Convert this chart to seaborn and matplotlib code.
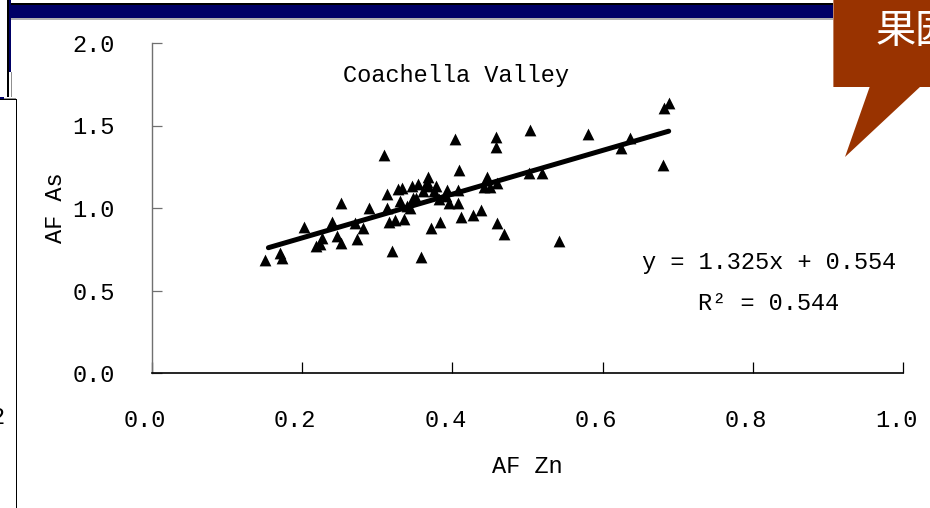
import matplotlib
matplotlib.use("Agg")
import matplotlib.pyplot as plt
from matplotlib.patches import Rectangle, Polygon
from matplotlib.transforms import ScaledTranslation
import seaborn as sns
import pandas as pd

# Aggregation factors, Coachella Valley soils
af_zn = [0.151, 0.170, 0.173, 0.202, 0.219, 0.224, 0.227, 0.240, 0.246, 0.251,
         0.251, 0.270, 0.273, 0.281, 0.289, 0.309, 0.313, 0.313, 0.316, 0.323,
         0.320, 0.327, 0.330, 0.333, 0.336, 0.339, 0.343, 0.346, 0.348, 0.352,
         0.354, 0.358, 0.361, 0.366, 0.368, 0.368, 0.371, 0.375, 0.378, 0.382,
         0.384, 0.392, 0.393, 0.396, 0.403, 0.407, 0.408, 0.409, 0.412, 0.427,
         0.438, 0.442, 0.446, 0.450, 0.458, 0.458, 0.460, 0.460, 0.469, 0.502,
         0.503, 0.519, 0.542, 0.580, 0.625, 0.636, 0.680, 0.682, 0.688]
af_as = [0.685, 0.729, 0.699, 0.887, 0.770, 0.780, 0.816, 0.917, 0.830, 1.028,
         0.786, 0.907, 0.812, 0.877, 1.002, 1.321, 1.085, 0.998, 0.917, 0.927,
         0.741, 1.113, 1.045, 1.119, 0.931, 1.012, 1.000, 1.131, 1.058, 1.058,
         1.145, 0.705, 1.100, 1.160, 1.190, 1.131, 0.877, 1.100, 1.131, 1.052,
         0.917, 1.070, 1.109, 1.028, 1.418, 1.109, 1.032, 1.230, 0.947, 0.958,
         0.988, 1.125, 1.190, 1.125, 1.432, 1.372, 1.149, 0.911, 0.841, 1.210,
         1.473, 1.210, 0.800, 1.448, 1.362, 1.422, 1.261, 1.604, 1.634]

slope, intercept, r_squared = 1.325, 0.554, 0.544

x_ticks = [0.0, 0.2, 0.4, 0.6, 0.8, 1.0]
y_ticks = [0.0, 0.5, 1.0, 1.5, 2.0]

W, H = 930, 508
FONT = ["Liberation Mono", "DejaVu Sans Mono"]

sns.set_style("white")
plt.rcParams["font.family"] = FONT
plt.rcParams["text.color"] = "black"
plt.rcParams["axes.labelcolor"] = "black"
plt.rcParams["xtick.color"] = "black"
plt.rcParams["ytick.color"] = "black"

fig = plt.figure(figsize=(W / 100, H / 100), dpi=100)
fig.patch.set_facecolor("white")


def fx(px):
    return px / W


def fy(py):
    return 1 - py / H


def rect(x0, y0, x1, y1, **kw):
    fig.patches.append(Rectangle((fx(x0), fy(y1)), fx(x1) - fx(x0), fy(y0) - fy(y1),
                                 transform=fig.transFigure, figure=fig, **kw))


# Slide frame: title bar and side strips
navy = "#000066"
rect(8, 3, W, 5, color="black", lw=0)
rect(11, 5, W, 18, color=navy, lw=0)
rect(11, 18, W, 19.5, color="#b0b0b0", lw=0)
rect(7, 0, 8.5, 97, color="black", lw=0)
rect(8.5, 0, 11, 72, color=navy, lw=0)
rect(10.5, 72, 11.5, 97, color="#909090", lw=0)
rect(0, 97, 4, 99, color=navy, lw=0)
rect(4, 97.5, 16, 99, color="#909090", lw=0)
rect(15.5, 99, 17, H, color="black", lw=0)
rect(0, 99, 16, 100.3, color="black", lw=0)
fig.text(fx(4), fy(418), "2", ha="right", va="center", fontsize=17, color="black")

# Callout in the top-right corner
brown = "#993300"
rect(833, 0, W, 87, color=brown, lw=0)
rect(833, 0, 834, 87, color="#c08060", lw=0)
fig.patches.append(Polygon([(fx(870), fy(86)), (fx(845), fy(157)), (fx(921), fy(86))],
                           closed=True, transform=fig.transFigure, figure=fig,
                           color=brown, lw=0))
fig.text(fx(876), fy(31), "果园", ha="left", va="center", fontsize=29, color="white",
         family=["Noto Sans CJK SC", "DejaVu Sans"])

# Scatter plot axes
ax = fig.add_axes([fx(152), fy(373), fx(903) - fx(152), fy(43) - fy(373)])
ax.set_facecolor("white")

df = pd.DataFrame({"AF Zn": af_zn, "AF As": af_as})
sns.scatterplot(data=df, x="AF Zn", y="AF As", marker="^", color="black",
                s=72, linewidth=0, ax=ax, zorder=3)

x_line = [min(af_zn) + 0.004, max(af_zn)]
trend = pd.DataFrame({"x": x_line, "y": [slope * v + intercept for v in x_line]})
sns.lineplot(data=trend, x="x", y="y", color="black", lw=3.6, ax=ax,
             solid_capstyle="round", zorder=4)

ax.set_xlim(0, 1)
ax.set_ylim(0, 2)
ax.set_xticks(x_ticks)
ax.set_yticks(y_ticks)
ax.set_xticklabels([f"{v:.1f}" for v in x_ticks])
ax.set_yticklabels([f"{v:.1f}" for v in y_ticks])
ax.tick_params(axis="x", bottom=True, direction="in", length=8, width=0.9,
               color="black", labelcolor="black", pad=26, labelsize=17)
ax.tick_params(axis="y", left=True, direction="in", length=7, width=0.9,
               color="#707070", labelcolor="black", pad=27, labelsize=17)

# x tick labels sit slightly left of their ticks
shift = ScaledTranslation(-7 / 100, 0, fig.dpi_scale_trans)
for lbl in ax.get_xticklabels():
    lbl.set_transform(lbl.get_transform() + shift)

for side in ("top", "right"):
    ax.spines[side].set_visible(False)
ax.spines["left"].set_color("#707070")
ax.spines["left"].set_linewidth(1.0)
ax.spines["bottom"].set_color("black")
ax.spines["bottom"].set_linewidth(1.2)

ax.set_xlabel("AF Zn", fontsize=17, va="center", color="black")
ax.set_ylabel("AF As", fontsize=17, va="center", color="black")
ax.xaxis.set_label_coords(0.4993, -0.282)
ax.yaxis.set_label_coords(-0.129, 0.5)

ax.text(0.405, 0.903, "Coachella Valley", transform=ax.transAxes,
        ha="center", va="center", fontsize=17, color="black")
ax.text(0.8216, 0.336, f"y = {slope:.3f}x + {intercept:.3f}", transform=ax.transAxes,
        ha="center", va="center", fontsize=17, color="black")
ax.text(0.8216, 0.212, f"R² = {r_squared:.3f}", transform=ax.transAxes,
        ha="center", va="center", fontsize=17, color="black")

fig.savefig("out.png", dpi=100, facecolor="white")
